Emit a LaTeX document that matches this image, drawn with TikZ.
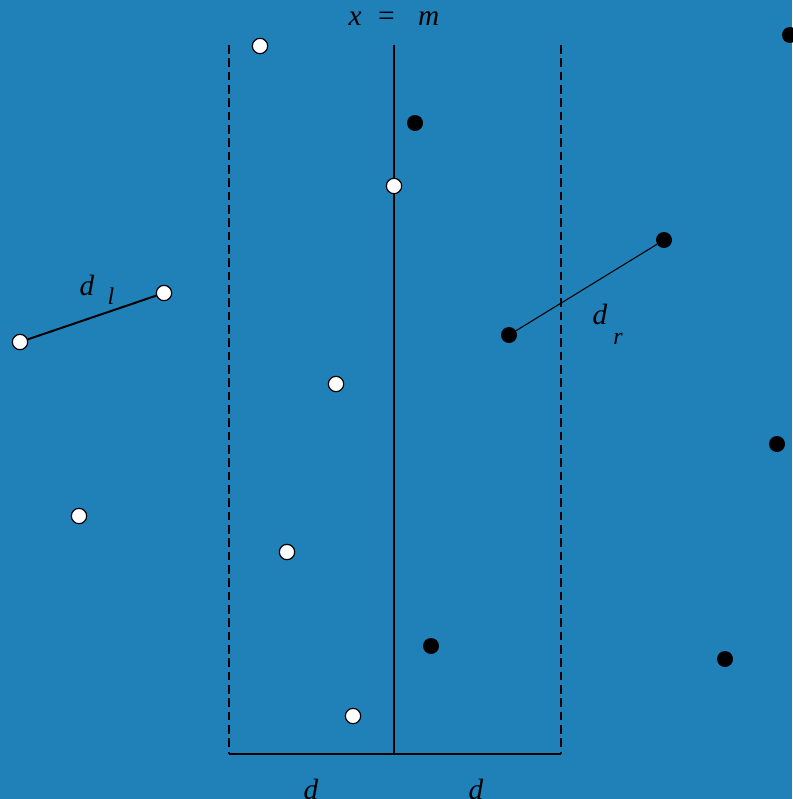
\documentclass[tikz,border=0pt]{standalone}
\usepackage{fontspec}
\setmainfont{Liberation Serif}
\definecolor{bgblue}{HTML}{2080B8}
\tikzset{
	wpt/.style = {circle, draw = black, fill = white, line width = 0.9pt, minimum size = 11.5pt, inner sep = 0pt},
	bpt/.style = {circle, fill = black, minimum size = 12pt, inner sep = 0pt},
	lbl/.style = {font = \fontsize{22}{26}\selectfont\itshape, inner sep = 0pt},
	sublbl/.style = {font = \fontsize{18}{21}\selectfont\itshape, inner sep = 0pt},
	strip/.style = {line width = 1.7pt, dash pattern = on 6.5pt off 3.5pt}
}
\begin{document}
\begin{tikzpicture}[x = 0.75pt, y = -0.75pt]
	\fill[bgblue] (0,0) rectangle (792,799);
	\useasboundingbox (0,0) rectangle (792,799);
	% strip round the median
	\coordinate (mt) at (394,45);
	\coordinate (mb) at (394,754);
	\coordinate (lt) at (229,45);
	\coordinate (lb) at (229,754);
	\coordinate (rt) at (561,45);
	\coordinate (rb) at (561,754);
	\draw[line width = 1.5pt] (mt) -- (mb);
	\draw[strip] (lt) -- (lb);
	\draw[strip] (rt) -- (rb);
	\draw[line width = 1.5pt] (lb) -- (rb);
	\node[lbl] (med) at (394,19) {x \ = \ \ m};
	\node[lbl] (dl1) at (311,789) {d};
	\node[lbl] (dr1) at (476,789) {d};
	% left half
	\node[wpt] (w1) at (260,46) {};
	\node[wpt] (w2) at (394,186) {};
	\node[wpt] (w3) at (164,293) {};
	\node[wpt] (w4) at (20,342) {};
	\node[wpt] (w5) at (336,384) {};
	\node[wpt] (w6) at (79,516) {};
	\node[wpt] (w7) at (287,552) {};
	\node[wpt] (w8) at (353,716) {};
	% right half
	\node[bpt] (b1) at (790,35) {};
	\node[bpt] (b2) at (415,123) {};
	\node[bpt] (b3) at (664,240) {};
	\node[bpt] (b4) at (509,335) {};
	\node[bpt] (b5) at (777,444) {};
	\node[bpt] (b6) at (431,646) {};
	\node[bpt] (b7) at (725,659) {};
	% closest pairs
	\draw[line width = 1.5pt] (w4) -- (w3);
	\draw[line width = 0.8pt] (b4) -- (b3);
	\node[lbl] (dl) at (87,285) {d};
	\node[sublbl] (dlsub) at (111,296) {l};
	\node[lbl] (dr) at (600,314) {d};
	\node[sublbl] (drsub) at (618,339) {r};
\end{tikzpicture}
\end{document}
